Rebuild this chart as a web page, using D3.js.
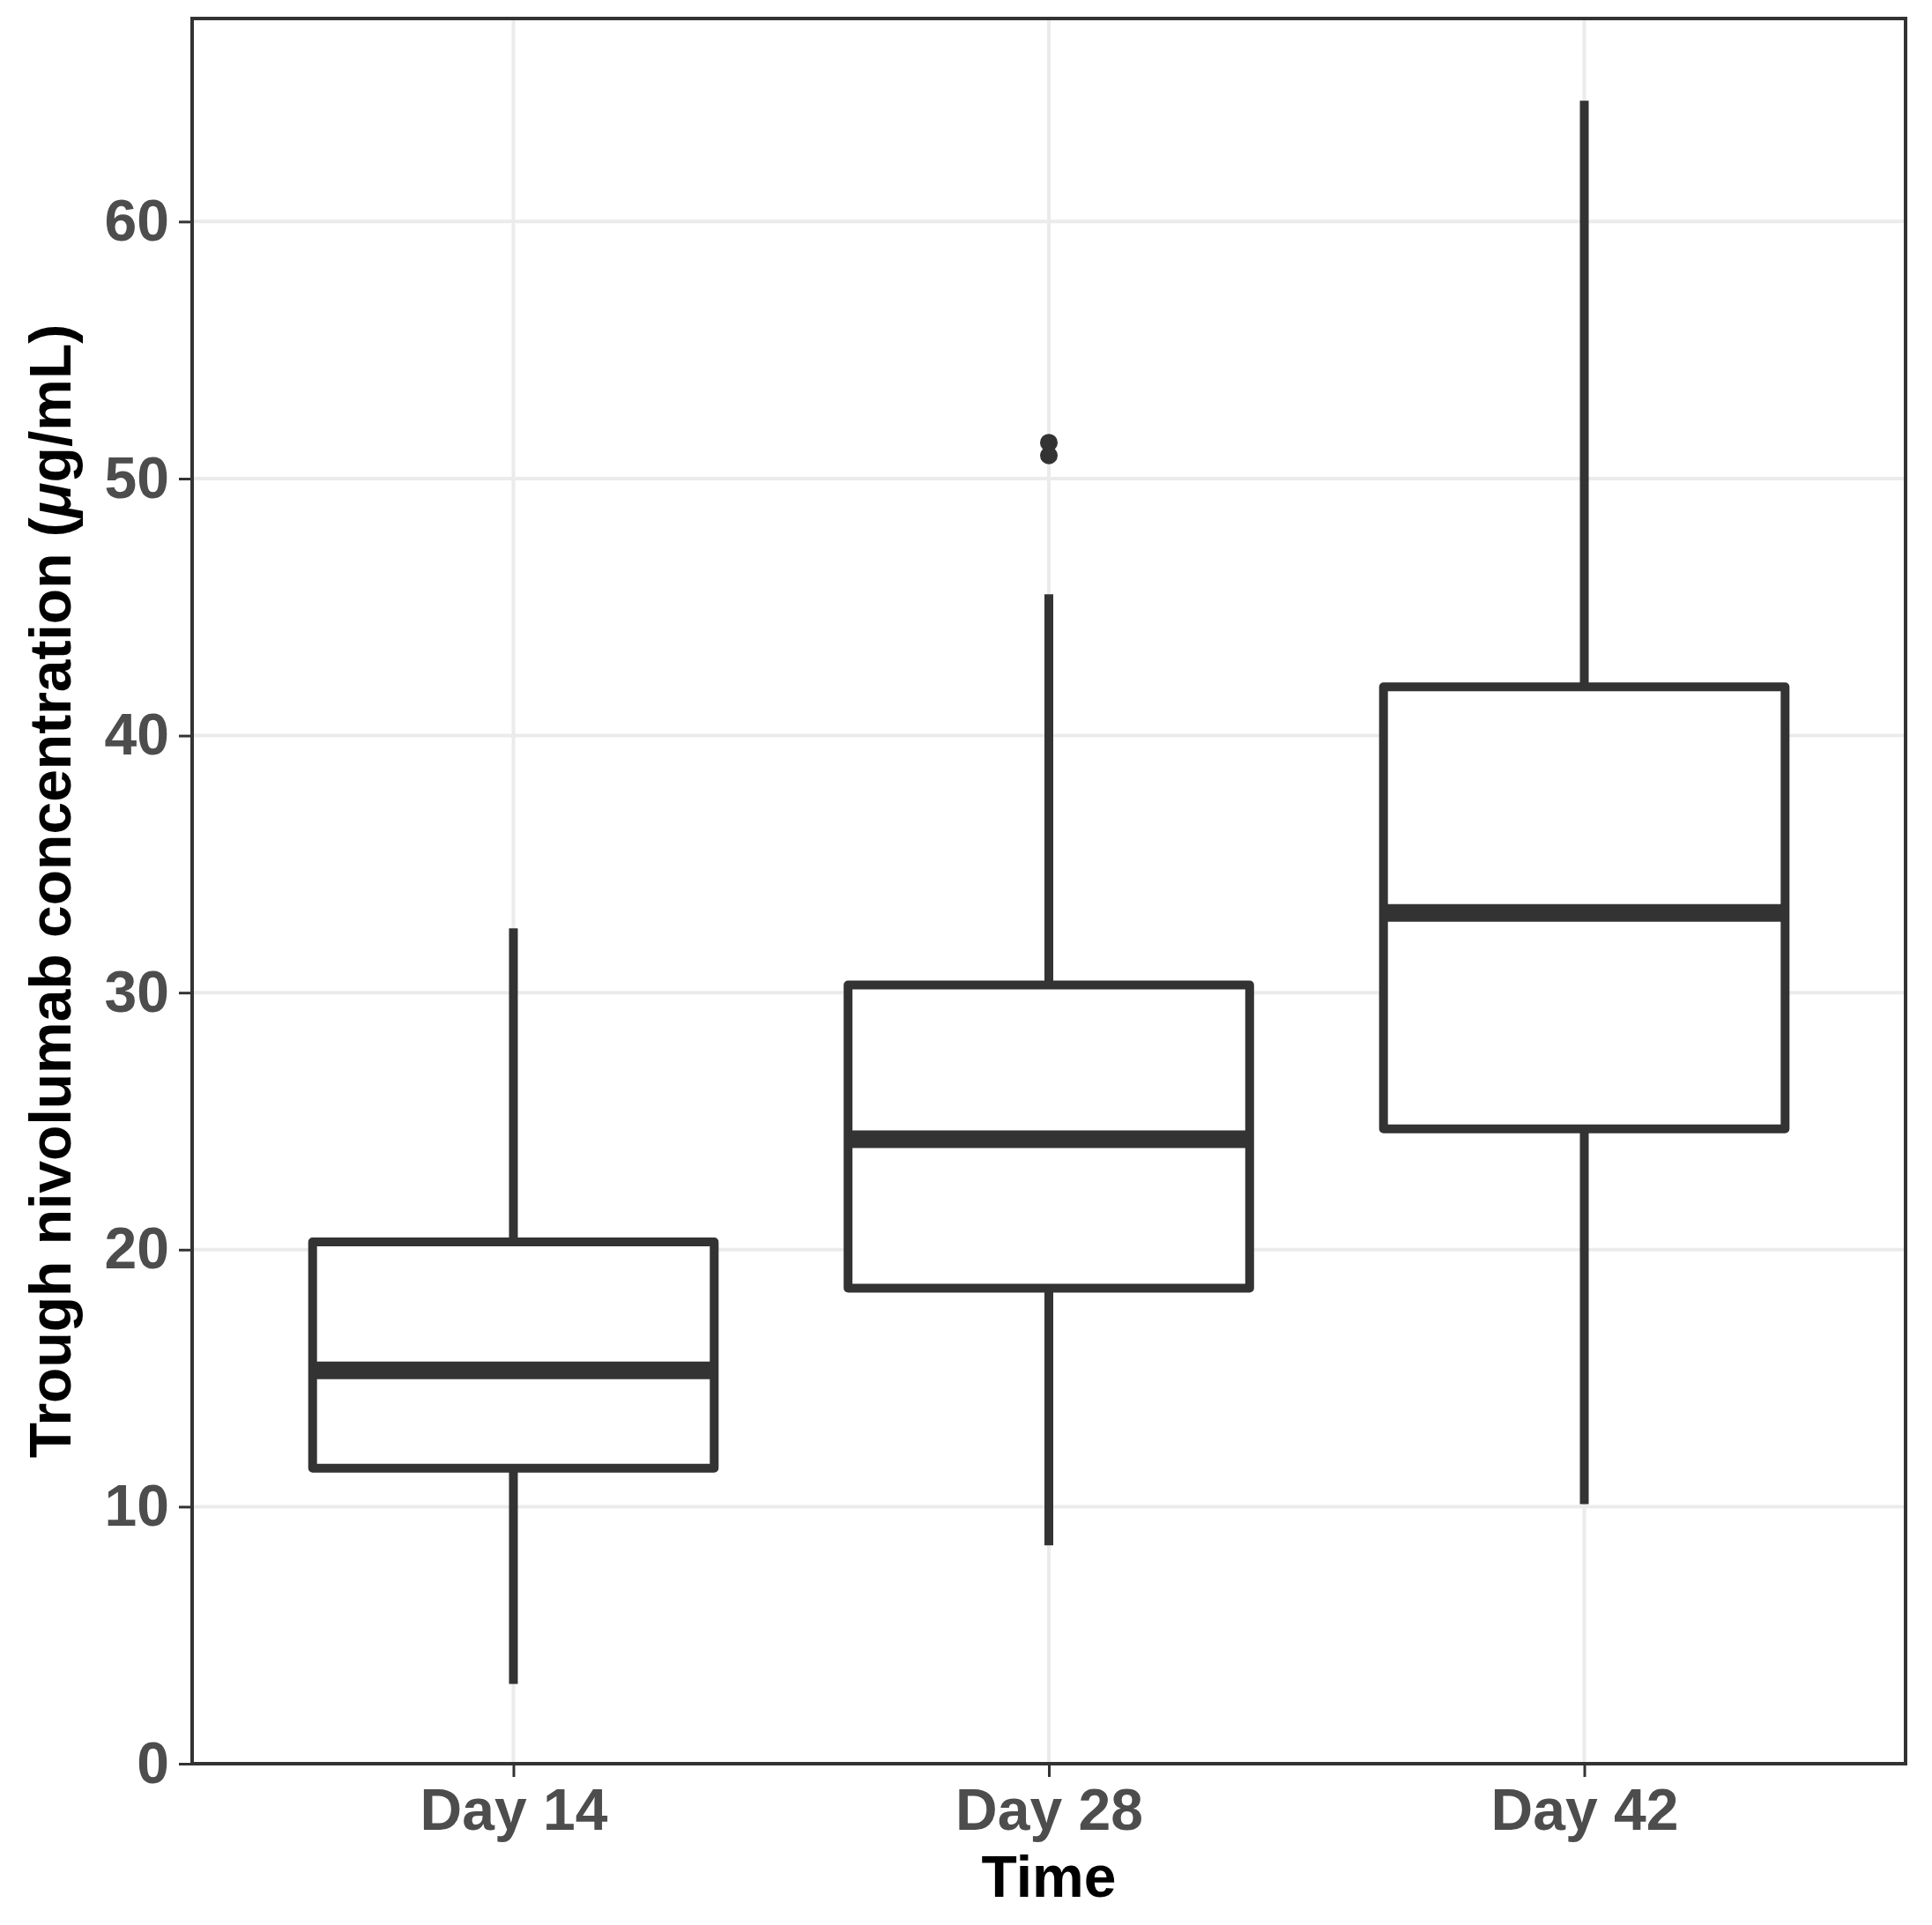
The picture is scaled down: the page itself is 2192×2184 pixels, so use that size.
<!DOCTYPE html>
<html>
<head>
<meta charset="utf-8">
<script src="https://cdn.jsdelivr.net/npm/d3@7"></script>
<style>
  body { margin: 0; background: #fff; }
  text { font-family: "Liberation Sans", Arial, sans-serif; font-weight: bold; }
</style>
</head>
<body>
<div id="chart"></div>
<script>
var categories = ["Day 14", "Day 28", "Day 42"];
var whiskerLow = [3.1, 8.5, 10.1];
var q1 = [11.5, 18.5, 24.7];
var median = [15.3, 24.3, 33.1];
var q3 = [20.3, 30.3, 41.9];
var whiskerHigh = [32.5, 45.5, 64.7];
var outlierCat = ["Day 28", "Day 28"];
var outlierVal = [51.4, 50.9];
var yTicks = [0, 10, 20, 30, 40, 50, 60];

var width = 2192, height = 2184;
var plotLeft = 218, plotRight = 2162, plotTop = 21, plotBottom = 2001;
var ink = "#333333";

var svg = d3.select("#chart").append("svg")
    .attr("width", width)
    .attr("height", height);

svg.append("rect").attr("width", width).attr("height", height).attr("fill", "#fff");

var x = d3.scalePoint().domain(categories).range([plotLeft, plotRight]).padding(0.6);
var y = d3.scaleLinear().domain([0, 67.9]).range([plotBottom, plotTop]);
var boxW = x.step() * 0.75;

// grid
var grid = svg.append("g");
grid.selectAll(".hgrid").data(yTicks).enter().append("line")
    .attr("x1", plotLeft).attr("x2", plotRight)
    .attr("y1", function(d) { return y(d); })
    .attr("y2", function(d) { return y(d); })
    .attr("stroke", "#ebebeb").attr("stroke-width", 4);
grid.selectAll(".vgrid").data(categories).enter().append("line")
    .attr("y1", plotTop).attr("y2", plotBottom)
    .attr("x1", function(d) { return x(d); })
    .attr("x2", function(d) { return x(d); })
    .attr("stroke", "#ebebeb").attr("stroke-width", 4);

var boxes = categories.map(function(c, i) {
    return { cat: c, lo: whiskerLow[i], q1: q1[i], med: median[i], q3: q3[i], hi: whiskerHigh[i] };
});

var g = svg.append("g");
var b = g.selectAll(".box").data(boxes).enter().append("g");

// whiskers
b.append("line")
    .attr("x1", function(d) { return x(d.cat); }).attr("x2", function(d) { return x(d.cat); })
    .attr("y1", function(d) { return y(d.q3); }).attr("y2", function(d) { return y(d.hi); })
    .attr("stroke", ink).attr("stroke-width", 10);
b.append("line")
    .attr("x1", function(d) { return x(d.cat); }).attr("x2", function(d) { return x(d.cat); })
    .attr("y1", function(d) { return y(d.q1); }).attr("y2", function(d) { return y(d.lo); })
    .attr("stroke", ink).attr("stroke-width", 10);

// box
b.append("rect")
    .attr("x", function(d) { return x(d.cat) - boxW / 2; })
    .attr("width", boxW)
    .attr("y", function(d) { return y(d.q3); })
    .attr("height", function(d) { return y(d.q1) - y(d.q3); })
    .attr("fill", "#fff").attr("stroke", ink).attr("stroke-width", 10)
    .attr("stroke-linejoin", "round");

// median
b.append("line")
    .attr("x1", function(d) { return x(d.cat) - boxW / 2; })
    .attr("x2", function(d) { return x(d.cat) + boxW / 2; })
    .attr("y1", function(d) { return y(d.med); }).attr("y2", function(d) { return y(d.med); })
    .attr("stroke", ink).attr("stroke-width", 20);

// outliers
g.selectAll(".out").data(outlierVal).enter().append("circle")
    .attr("cx", function(d, i) { return x(outlierCat[i]); })
    .attr("cy", function(d) { return y(d); })
    .attr("r", 10)
    .attr("fill", ink);

// panel border
svg.append("rect")
    .attr("x", plotLeft).attr("y", plotTop)
    .attr("width", plotRight - plotLeft).attr("height", plotBottom - plotTop)
    .attr("fill", "none").attr("stroke", ink).attr("stroke-width", 4);

// axes
var yAxis = svg.append("g").attr("transform", "translate(" + plotLeft + ",0)")
    .call(d3.axisLeft(y).tickValues(yTicks).tickSize(15).tickPadding(11));
var xAxis = svg.append("g").attr("transform", "translate(0," + plotBottom + ")")
    .call(d3.axisBottom(x).tickSize(15).tickPadding(13));

[yAxis, xAxis].forEach(function(a) {
    a.select(".domain").remove();
    a.selectAll(".tick line").attr("stroke", ink).attr("stroke-width", 3);
    a.selectAll(".tick text")
        .attr("fill", "#4d4d4d")
        .style("font-size", "66px")
        .style("font-family", "'Liberation Sans', Arial, sans-serif")
        .style("font-weight", "bold");
});

// titles
svg.append("text")
    .attr("x", (plotLeft + plotRight) / 2).attr("y", 2152)
    .attr("text-anchor", "middle")
    .style("font-size", "66px")
    .attr("fill", "#000")
    .text("Time");

var yt = svg.append("text")
    .attr("transform", "translate(80," + ((plotTop + plotBottom) / 2) + ") rotate(-90)")
    .attr("text-anchor", "middle")
    .style("font-size", "66px")
    .attr("fill", "#000");
yt.append("tspan").text("Trough nivolumab concentration (");
yt.append("tspan").style("font-style", "italic").text("\u03bc");
yt.append("tspan").text("g/mL)");
</script>
</body>
</html>
